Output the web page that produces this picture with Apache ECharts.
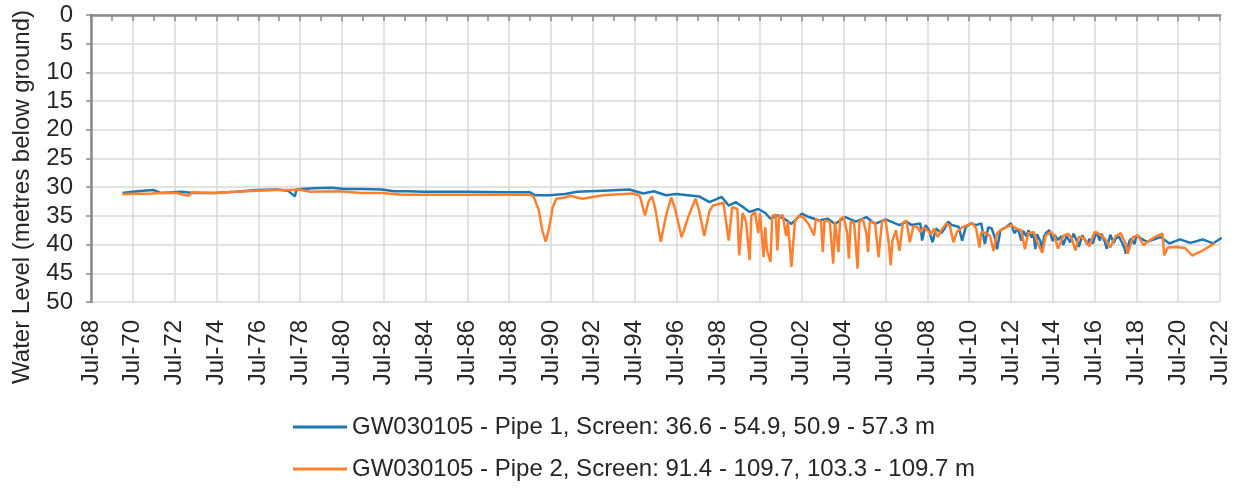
<!DOCTYPE html>
<html>
<head>
<meta charset="utf-8">
<script src="https://cdn.jsdelivr.net/npm/echarts@6/dist/echarts.min.js"></script>
<style>
  html, body { margin: 0; padding: 0; background: #fff; }
  #main { width: 1234px; height: 491px; }
</style>
</head>
<body>
<div id="main"></div>
<script>
// axis runs in months counted from Jul-68
const startYear = 1968
const startMonth = 7

const pipe1Name = 'GW030105 - Pipe 1, Screen: 36.6 - 54.9, 50.9 - 57.3 m'
const pipe1Dates = ['1970-01', '1970-07', '1971-01', '1971-07', '1971-11', '1972-06', '1972-11', '1973-06', '1974-06', '1975-06',
  '1976-06', '1977-06', '1977-12', '1978-04', '1978-05', '1978-08', '1979-03', '1980-01', '1980-09', '1981-06',
  '1982-06', '1983-01', '1983-09', '1984-06', '1986-06', '1988-06', '1989-07', '1989-10', '1990-06', '1991-03',
  '1991-10', '1993-01', '1994-04', '1994-12', '1995-06', '1996-01', '1996-07', '1997-08', '1998-02', '1998-09',
  '1999-01', '1999-05', '1999-09', '2000-01', '2000-06', '2000-10', '2001-01', '2001-05', '2001-09', '2002-01',
  '2002-07', '2002-11', '2003-05', '2003-10', '2004-02', '2004-08', '2005-02', '2005-08', '2006-01', '2006-07',
  '2007-03', '2007-07', '2007-10', '2008-03', '2008-04', '2008-06', '2008-08', '2008-10', '2008-12', '2009-03',
  '2009-05', '2009-07', '2009-09', '2010-01', '2010-03', '2010-05', '2010-08', '2010-11', '2011-02', '2011-04',
  '2011-06', '2011-08', '2011-10', '2011-11', '2012-01', '2012-04', '2012-07', '2012-09', '2012-11', '2013-01',
  '2013-02', '2013-04', '2013-05', '2013-07', '2013-08', '2013-09', '2013-10', '2013-12', '2014-01', '2014-02',
  '2014-03', '2014-05', '2014-07', '2014-08', '2014-10', '2014-12', '2015-01', '2015-03', '2015-05', '2015-07',
  '2015-09', '2015-10', '2015-12', '2016-01', '2016-03', '2016-04', '2016-06', '2016-08', '2016-10', '2016-11',
  '2017-01', '2017-02', '2017-04', '2017-06', '2017-07', '2017-09', '2017-11', '2017-12', '2018-01', '2018-03',
  '2018-04', '2018-06', '2018-07', '2018-10', '2019-01', '2019-04', '2019-09', '2020-02', '2020-08', '2021-02',
  '2021-09', '2022-03', '2022-08']
const pipe1Level = [31.0, 30.8, 30.6, 30.5, 31.0, 30.9, 30.8, 31.0, 31.0, 30.8,
  30.5, 30.4, 30.6, 31.6, 30.4, 30.3, 30.2, 30.1, 30.3, 30.3,
  30.4, 30.7, 30.7, 30.8, 30.8, 30.9, 30.9, 31.4, 31.4, 31.2,
  30.8, 30.6, 30.4, 31.1, 30.7, 31.4, 31.2, 31.6, 32.6, 31.7,
  33.2, 32.6, 33.4, 34.3, 33.8, 34.5, 35.5, 34.9, 35.5, 36.4,
  34.6, 35.2, 35.8, 35.5, 36.4, 35.2, 36.0, 35.2, 36.4, 35.6,
  36.6, 36.0, 36.6, 36.3, 39.3, 36.6, 37.5, 39.6, 37.2, 38.0,
  37.2, 36.0, 36.6, 36.9, 39.3, 37.0, 36.3, 36.6, 36.3, 39.9,
  37.0, 37.2, 39.0, 40.8, 37.5, 37.0, 36.3, 38.0, 37.2, 39.3,
  37.6, 38.6, 37.5, 38.8, 37.9, 40.8, 38.2, 39.5, 41.1, 38.6,
  38.0, 37.5, 39.4, 38.3, 39.2, 38.5, 40.1, 38.5, 39.6, 38.1,
  39.5, 40.4, 38.4, 38.5, 40.0, 39.0, 39.8, 37.8, 39.3, 38.1,
  39.6, 40.7, 38.3, 39.7, 39.0, 38.6, 39.8, 40.5, 41.6, 39.4,
  39.0, 39.9, 38.4, 39.0, 39.5, 39.2, 38.7, 39.8, 39.1, 39.7,
  39.1, 39.8, 38.8]

const pipe2Name = 'GW030105 - Pipe 2, Screen: 91.4 - 109.7, 103.3 - 109.7 m'
const pipe2Dates = ['1970-01', '1971-06', '1971-11', '1972-08', '1973-03', '1973-05', '1974-06', '1975-06', '1976-06', '1977-06',
  '1978-01', '1978-06', '1979-01', '1980-06', '1981-06', '1982-06', '1983-06', '1985-06', '1987-06', '1989-06',
  '1989-09', '1989-12', '1990-02', '1990-04', '1990-06', '1990-08', '1990-10', '1991-03', '1991-06', '1992-01',
  '1993-01', '1994-06', '1994-10', '1995-01', '1995-03', '1995-05', '1995-07', '1995-10', '1996-01', '1996-04',
  '1996-06', '1996-10', '1997-02', '1997-06', '1997-08', '1997-11', '1998-02', '1998-04', '1998-10', '1999-01',
  '1999-03', '1999-06', '1999-07', '1999-09', '1999-11', '2000-01', '2000-02', '2000-04', '2000-06', '2000-07',
  '2000-09', '2000-10', '2000-11', '2001-01', '2001-02', '2001-04', '2001-05', '2001-06', '2001-08', '2001-10',
  '2001-11', '2002-01', '2002-03', '2002-05', '2002-08', '2002-11', '2003-02', '2003-03', '2003-06', '2003-07',
  '2003-08', '2003-11', '2004-01', '2004-02', '2004-03', '2004-04', '2004-05', '2004-07', '2004-09', '2004-10',
  '2004-11', '2005-01', '2005-03', '2005-04', '2005-06', '2005-08', '2005-09', '2005-10', '2006-01', '2006-03',
  '2006-05', '2006-07', '2006-09', '2006-10', '2006-11', '2007-01', '2007-03', '2007-05', '2007-07', '2007-09',
  '2007-11', '2008-01', '2008-03', '2008-05', '2008-07', '2008-09', '2008-11', '2009-01', '2009-03', '2009-06',
  '2009-08', '2009-10', '2009-12', '2010-03', '2010-06', '2010-09', '2010-11', '2011-01', '2011-02', '2011-05',
  '2011-07', '2011-09', '2011-11', '2012-02', '2012-07', '2012-10', '2013-01', '2013-03', '2013-05', '2013-08',
  '2013-10', '2014-01', '2014-03', '2014-06', '2014-08', '2014-10', '2015-01', '2015-04', '2015-06', '2015-08',
  '2015-10', '2016-01', '2016-04', '2016-07', '2016-10', '2017-01', '2017-04', '2017-07', '2017-10', '2018-01',
  '2018-02', '2018-05', '2018-08', '2018-11', '2019-02', '2019-06', '2019-10', '2019-11', '2020-01', '2020-06',
  '2020-11', '2021-03', '2021-08', '2022-04']
const pipe2Level = [31.2, 31.1, 31.0, 31.0, 31.5, 30.9, 31.0, 30.8, 30.6, 30.5,
  30.5, 30.4, 30.8, 30.7, 31.0, 31.0, 31.3, 31.3, 31.3, 31.3,
  31.6, 34.0, 37.5, 39.5, 37.0, 33.5, 32.0, 31.8, 31.5, 32.0,
  31.4, 31.1, 31.5, 34.9, 32.5, 31.6, 34.0, 39.5, 35.0, 31.8,
  33.5, 38.7, 35.0, 32.0, 34.0, 38.5, 34.1, 33.2, 32.7, 39.3,
  33.5, 33.8, 41.9, 34.5, 36.0, 42.7, 35.0, 34.3, 38.0, 34.5,
  42.2, 37.0, 41.0, 43.0, 35.0, 34.8, 41.0, 35.0, 34.9, 38.5,
  36.0, 43.9, 36.0, 35.0, 35.3, 36.5, 38.4, 35.5, 36.0, 41.3,
  35.8, 36.0, 43.3, 36.0, 35.8, 41.3, 35.5, 35.2, 38.0, 42.4,
  36.0, 36.2, 44.2, 36.0, 35.5, 38.0, 41.3, 36.0, 36.2, 42.2,
  36.0, 35.7, 40.0, 43.6, 39.3, 37.5, 41.1, 36.2, 35.8, 39.6,
  36.8, 36.9, 37.8, 37.0, 37.5, 38.2, 37.2, 38.7, 37.5, 36.3,
  36.8, 39.6, 37.8, 37.0, 36.6, 36.3, 37.2, 40.5, 37.8, 38.0,
  38.5, 41.1, 38.0, 37.3, 36.6, 37.2, 37.5, 40.8, 38.0, 37.8,
  39.5, 41.4, 38.4, 37.8, 38.5, 40.7, 38.5, 38.1, 39.0, 41.0,
  38.6, 38.9, 40.3, 37.8, 38.2, 39.0, 40.5, 38.6, 38.0, 40.0,
  41.6, 38.7, 38.4, 40.1, 39.4, 38.6, 38.1, 41.9, 40.5, 40.4,
  40.6, 41.9, 41.2, 39.8]

function toMonths(d) {
  let parts = d.split('-')
  return (Number(parts[0]) - startYear) * 12 + (Number(parts[1]) - startMonth)
}

function toPoints(dates, levels) {
  let pts = []
  for (let i = 0; i < dates.length; i++) {
    pts.push([toMonths(dates[i]), levels[i]])
  }
  return pts
}

const font = 'Liberation Sans, Arial, sans-serif'
const textColor = '#262626'

let chart = echarts.init(document.getElementById('main'))

let option = {
  animation: false,
  grid: {
    left: 91,
    right: 14,
    top: 15,
    bottom: 189
  },
  graphic: [{
    type: 'text',
    x: 22,
    y: 197,
    rotation: Math.PI / 2,
    style: {
      text: 'Water Level (metres below ground)',
      font: '24px ' + font,
      fill: textColor,
      align: 'center',
      verticalAlign: 'middle'
    }
  }],
  legend: {
    orient: 'vertical',
    left: 288,
    top: 410,
    icon: 'rect',
    itemWidth: 54,
    itemHeight: 3,
    itemGap: 18,
    textStyle: {
      fontFamily: font,
      fontSize: 24,
      lineHeight: 24,
      color: textColor
    },
    data: [pipe1Name, pipe2Name]
  },
  xAxis: {
    type: 'value',
    min: 0,
    max: 648,
    interval: 24,
    axisLine: { lineStyle: { color: '#898989', width: 2.5 } },
    axisTick: { show: true, length: 6, lineStyle: { color: '#898989', width: 1.5 } },
    minorTick: { show: true, splitNumber: 2, length: 6, lineStyle: { color: '#898989', width: 1.5 } },
    splitLine: { show: true, lineStyle: { color: '#d9d9d9', width: 1.5 } },
    axisLabel: {
      rotate: 90,
      margin: 18,
      fontFamily: font,
      fontSize: 24,
      color: textColor,
      formatter: function (v) {
        let yr = (startYear + Math.round(v / 12)) % 100
        return 'Jul-' + (yr < 10 ? '0' + yr : yr)
      }
    }
  },
  yAxis: {
    type: 'value',
    inverse: true,
    min: 0,
    max: 50,
    interval: 5,
    axisLine: { show: true, lineStyle: { color: '#898989', width: 2.5 } },
    axisTick: { show: true, length: 5, lineStyle: { color: '#898989', width: 1.5 } },
    splitLine: { show: true, lineStyle: { color: '#d9d9d9', width: 1.5 } },
    axisLabel: {
      margin: 18,
      fontFamily: font,
      fontSize: 24,
      color: textColor
    }
  },
  series: [{
    name: pipe1Name,
    type: 'line',
    symbol: 'none',
    color: '#1f77b4',
    lineStyle: { width: 2.5 },
    data: toPoints(pipe1Dates, pipe1Level)
  }, {
    name: pipe2Name,
    type: 'line',
    symbol: 'none',
    color: '#ff8130',
    lineStyle: { width: 2.5 },
    data: toPoints(pipe2Dates, pipe2Level)
  }]
}

chart.setOption(option)
</script>
</body>
</html>
